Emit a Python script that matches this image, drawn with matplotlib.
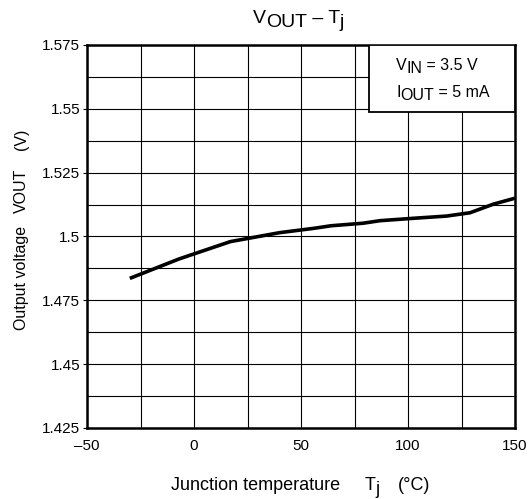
import numpy as np
import matplotlib
matplotlib.use("Agg")
import matplotlib.pyplot as plt
from matplotlib.ticker import MultipleLocator, FixedLocator, FixedFormatter
from matplotlib.patches import Rectangle

plt.rcParams['font.family'] = ['Liberation Sans', 'DejaVu Sans']

# data
temp_c = [-30, -7, 17, 40, 56, 64, 79, 87, 102, 118, 129, 140, 150]
vout_v = [1.4836, 1.4912, 1.4980, 1.5015, 1.5032, 1.5042, 1.5052, 1.5062,
          1.5071, 1.5080, 1.5093, 1.5127, 1.5150]

x_ticks = [-50, 0, 50, 100, 150]
x_labels = ["\u201350", "0", "50", "100", "150"]
y_ticks = [1.425, 1.45, 1.475, 1.5, 1.525, 1.55, 1.575]
y_labels = ["1.425", "1.45", "1.475", "1.5", "1.525", "1.55", "1.575"]

W, H = 528, 499
fig = plt.figure(figsize=(W / 100, H / 100), dpi=100)
ax = fig.add_axes([87 / W, 71 / H, 428 / W, 383 / H])
renderer = fig.canvas.get_renderer()


def text_w(s, size):
    # width incl. spaces, measured between two bars
    t = fig.text(0, 0, "|" + s + "|", fontsize=size)
    w1 = t.get_window_extent(renderer).width
    t.set_text("||")
    w0 = t.get_window_extent(renderer).width
    t.remove()
    return w1 - w0


def chain(x, y, parts, size, rot=False):
    # parts: (text, drop in px); x,y in px from top-left, on the baseline
    pos = y if rot else x
    for s, dy in parts:
        if rot:
            fig.text((x + dy) / W, 1 - pos / H, s, fontsize=size, rotation=90,
                     rotation_mode="anchor", ha="left", va="baseline")
            pos -= text_w(s, size)
        else:
            fig.text(pos / W, 1 - (y + dy) / H, s, fontsize=size,
                     ha="left", va="baseline", zorder=6)
            pos += text_w(s, size)


ax.plot(temp_c, vout_v, color="black", lw=2.6, solid_capstyle="butt", zorder=3)

ax.set_xlim(-50, 150)
ax.set_ylim(1.425, 1.575)

ax.xaxis.set_major_locator(FixedLocator(x_ticks))
ax.xaxis.set_major_formatter(FixedFormatter(x_labels))
ax.yaxis.set_major_locator(FixedLocator(y_ticks))
ax.yaxis.set_major_formatter(FixedFormatter(y_labels))
ax.xaxis.set_minor_locator(MultipleLocator(25))
ax.yaxis.set_minor_locator(MultipleLocator(0.0125))

ax.grid(True, which="both", color="black", lw=0.8)
ax.set_axisbelow(True)
ax.tick_params(axis="x", which="both", length=0, pad=8, labelsize=11)
ax.tick_params(axis="y", which="major", length=3, width=0.8, pad=2, labelsize=11)
ax.tick_params(axis="y", which="minor", length=0)

for sp in ax.spines.values():
    sp.set_linewidth(1.8)

# condition box
ax.add_patch(Rectangle((0.659, 0.825), 0.341, 0.175, transform=ax.transAxes,
                       facecolor="white", edgecolor="black", lw=1.3, zorder=4))
chain(396, 70, [("V", 0), ("IN", 3), (" = 3.5 V", 0)], 11.5)
chain(396, 97, [("I", 0), ("OUT", 3), (" = 5 mA", 0)], 11.5)

# title
chain(252.7, 23, [("V", 0), ("OUT", 4), (" \u2013 T", 0), ("j", 4)], 14)

# axis labels
chain(170.7, 490, [("Junction temperature", 0)], 13)
chain(365, 490, [("T", 0), ("j", 4)], 13)
chain(398, 490, [("(\u00b0C)", 0)], 13)

chain(26, 330, [("Output voltage", 0)], 11.5, rot=True)
chain(26, 213, [("VOUT", 0)], 11.5, rot=True)
chain(26, 150, [("(V)", 0)], 11.5, rot=True)

fig.savefig("out.png", dpi=100)
